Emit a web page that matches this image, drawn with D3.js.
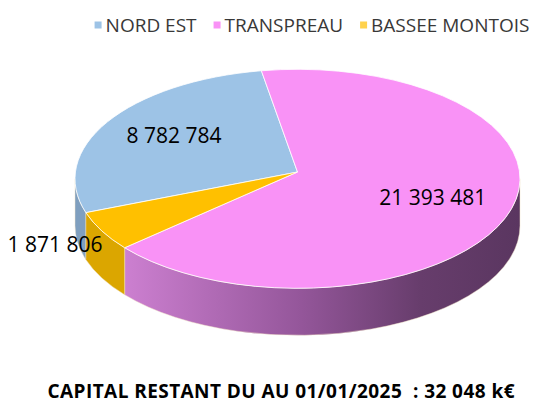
<!doctype html>
<html>
<head>
<meta charset="utf-8">
<style>
	body { margin: 0; background: #fff; }
	svg { display: block; }
</style>
</head>
<body>
	<div class="chart"></div>

	<script src="https://d3js.org/d3.v7.min.js"></script>
	<script>
		// data
		const categories = ["NORD EST", "TRANSPREAU", "BASSEE MONTOIS"];
		const values = [8782784, 21393481, 1871806];
		const topColors = ["#9dc3e6", "#f992f6", "#ffc000"];
		const sideColors = ["#7f9fbf", "url(#pinkSide)", "#dba600"];
		const titleText = "CAPITAL RESTANT DU AU 01/01/2025  : ";

		let width = 548,
			height = 416;

		// ellipse of the top face
		let cx = 297.5,
			cy = 178.8,
			rx = 222.5,
			ry = 109.5,
			apexY = 172,
			depth = 47;

		let svg = d3.select(".chart")
			.append("svg")
			.attr("width", width)
			.attr("height", height);

		let defs = svg.append("defs");
		let grad = defs.append("linearGradient")
			.attr("id", "pinkSide")
			.attr("gradientUnits", "userSpaceOnUse")
			.attr("x1", 122).attr("x2", 520)
			.attr("y1", 0).attr("y2", 0);
		grad.append("stop").attr("offset", "0%").attr("stop-color", "#cd80d1");
		grad.append("stop").attr("offset", "45%").attr("stop-color", "#94569a");
		grad.append("stop").attr("offset", "75%").attr("stop-color", "#673d6c");
		grad.append("stop").attr("offset", "100%").attr("stop-color", "#5a3660");

		let fr = d3.formatLocale({ decimal: ",", thousands: " ", grouping: [3], currency: ["", " €"] });
		let fmt = fr.format(",d");

		let pie = d3.pie()
			.sort(null)
			.startAngle(-108 * Math.PI / 180)
			.endAngle(252 * Math.PI / 180);
		let arcs = pie(values);

		let P = (t, dy = 0) => [cx + rx * Math.sin(t), cy - ry * Math.cos(t) + dy];

		// side walls: only the front half (90° .. 270°) is visible
		let sides = svg.append("g");
		arcs.forEach((d, i) => {
			for (let k = -1; k <= 1; k++) {
				let lo = Math.PI / 2 + 2 * Math.PI * k,
					hi = 3 * Math.PI / 2 + 2 * Math.PI * k;
				let s = Math.max(d.startAngle, lo),
					e = Math.min(d.endAngle, hi);
				if (e <= s) continue;
				let A = P(s), B = P(e), Bd = P(e, depth), Ad = P(s, depth);
				let large = (e - s) > Math.PI ? 1 : 0;
				let str = "M" + A + "A" + rx + "," + ry + " 0 " + large + " 1 " + B +
					"L" + Bd + "A" + rx + "," + ry + " 0 " + large + " 0 " + Ad + "Z";
				sides.append("path")
					.attr("d", str)
					.attr("fill", sideColors[i])
					.attr("stroke", "#f3e3c8")
					.attr("stroke-opacity", 0.6)
					.attr("stroke-width", 0.8);
			}
		});

		// top face
		let topFace = svg.append("g");
		arcs.forEach((d, i) => {
			let A = P(d.startAngle), B = P(d.endAngle);
			let large = (d.endAngle - d.startAngle) > Math.PI ? 1 : 0;
			let str = "M" + cx + "," + apexY + "L" + A + "A" + rx + "," + ry + " 0 " + large + " 1 " + B + "Z";
			topFace.append("path")
				.attr("d", str)
				.attr("fill", topColors[i])
				.attr("stroke", "#ffffff")
				.attr("stroke-opacity", 0.8)
				.attr("stroke-width", 1)
				.attr("stroke-linejoin", "round");
		});

		// data labels (small slices go outside)
		let total = d3.sum(values);
		let outside = d => d.value / total < 0.1;
		let labelR = d => outside(d) ? 1.24 : 0.65;
		svg.append("g").selectAll("text")
			.data(arcs)
			.join("text")
			.attr("x", d => cx + rx * labelR(d) * Math.sin((d.startAngle + d.endAngle) / 2))
			.attr("y", d => apexY - ry * labelR(d) * Math.cos((d.startAngle + d.endAngle) / 2))
			.attr("dy", d => outside(d) ? 7 : 0)
			.attr("text-anchor", "middle")
			.attr("dominant-baseline", "central")
			.style("font-family", "'Open Sans', sans-serif")
			.style("font-size", "21px")
			.attr("fill", "#000")
			.text(d => fmt(d.value));

		// legend
		let legend = svg.append("g");
		let lx = 0;
		categories.forEach((c, i) => {
			let item = legend.append("g").attr("transform", "translate(" + lx + ",0)");
			item.append("rect")
				.attr("x", 0).attr("y", -3.5)
				.attr("width", 7).attr("height", 7)
				.attr("fill", i === 2 ? "#ffd24d" : topColors[i]);
			let t = item.append("text")
				.attr("x", 11)
				.attr("y", 0)
				.attr("dominant-baseline", "central")
				.style("font-family", "'Open Sans', sans-serif")
				.style("font-size", "19px")
				.attr("fill", "#383838")
				.text(c);
			lx += 11 + t.node().getComputedTextLength() + 17;
		});
		let lw = lx - 17;
		legend.attr("transform", "translate(" + (312 - lw / 2) + ",25)");

		// title
		svg.append("text")
			.attr("x", 281)
			.attr("y", 391)
			.attr("text-anchor", "middle")
			.attr("dominant-baseline", "central")
			.attr("textLength", 467)
			.attr("lengthAdjust", "spacing")
			.style("white-space", "pre")
			.style("font-family", "'Open Sans', sans-serif")
			.style("font-weight", "bold")
			.style("font-size", "19px")
			.attr("fill", "#000")
			.text(titleText + fmt(Math.round(total / 1000)) + " k€");
	</script>
</body>
</html>
